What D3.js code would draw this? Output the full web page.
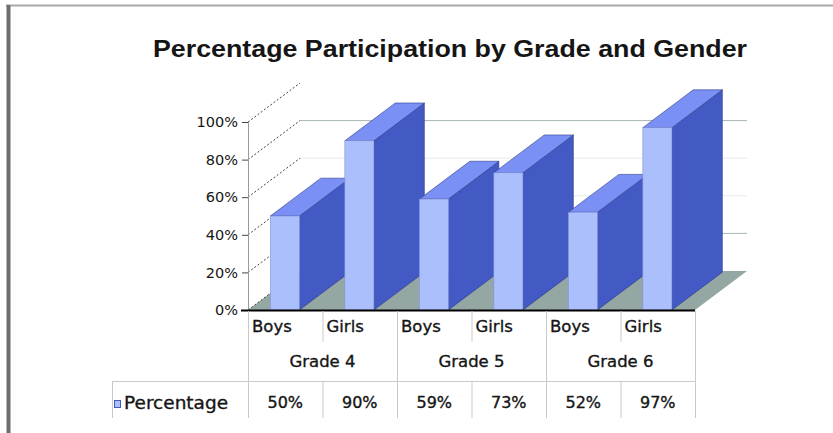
<!DOCTYPE html>
<html lang="en">
<head>
  <meta charset="UTF-8">
  <title>Percentage Participation by Grade and Gender</title>
  <script src="https://d3js.org/d3.v7.min.js"></script>
  <style>
    body { margin: 0; background: #fff; }
    svg { display: block; }
    text { font-family: "DejaVu Sans", Verdana, sans-serif; fill: #151515; }
    .lbl { stroke: #151515; stroke-width: 0.35; }
    .title { font-family: "Liberation Sans", Arial, sans-serif; font-weight: bold; }
  </style>
</head>
<body>
  <svg id="chart"></svg>
  <script>
    // data
    const grades = ["Grade 4", "Grade 5", "Grade 6"];
    const genders = ["Boys", "Girls"];
    const values = [50, 90, 59, 73, 52, 97];
    const yTicks = [0, 20, 40, 60, 80, 100];
    const seriesName = "Percentage";
    const title = "Percentage Participation by Grade and Gender";

    const W = 833, H = 433;
    const svg = d3.select("#chart").attr("width", W).attr("height", H);

    // one entry per bar
    const cats = [];
    grades.forEach((g, gi) => genders.forEach((s, si) => {
      cats.push({ id: gi * 2 + si, grade: g, gender: s, value: values[gi * 2 + si] });
    }));

    const x = d3.scaleBand().domain(cats.map(d => d.id)).range([248, 695]);
    const y = d3.scaleLinear().domain([0, 100]).range([310, 122]);
    const bw = x.bandwidth();
    const dx = 52, dy = -39;   // depth offset of the 3d box

    // frame
    svg.append("line").attr("x1", 6).attr("y1", 5.5).attr("x2", W).attr("y2", 5.5)
      .attr("stroke", "#a9a9a9").attr("stroke-width", 2);
    svg.append("line").attr("x1", 8.5).attr("y1", 5).attr("x2", 8.5).attr("y2", H)
      .attr("stroke", "#6e6e6e").attr("stroke-width", 4);

    // title
    svg.append("text").attr("class", "title")
      .attr("x", 450).attr("y", 57).attr("text-anchor", "middle")
      .attr("font-size", 23).attr("textLength", 594).attr("lengthAdjust", "spacingAndGlyphs")
      .text(title);

    // floor
    const floorPts = [[x.range()[0], y(0)], [x.range()[1], y(0)],
                      [x.range()[1] + dx, y(0) + dy], [x.range()[0] + dx, y(0) + dy]];
    svg.append("polygon").attr("points", floorPts.map(p => p.join(",")).join(" "))
      .attr("fill", "#95a7a2");

    // back wall gridlines
    svg.append("g").selectAll("line").data(yTicks.filter(t => t > 0 && t < 100)).join("line")
      .attr("x1", x.range()[0] + dx).attr("x2", x.range()[1] + dx)
      .attr("y1", d => y(d) + dy).attr("y2", d => y(d) + dy)
      .attr("stroke", d => (d === 20 || d === 80) ? "#a8b6b4" : "#e6eaea").attr("stroke-width", 1);

    // diagonal tick lines on the left side wall
    svg.append("g").selectAll("line").data(yTicks).join("line")
      .attr("x1", x.range()[0]).attr("y1", d => y(d))
      .attr("x2", x.range()[0] + dx).attr("y2", d => y(d) + dy)
      .attr("stroke", "#333").attr("stroke-width", 0.9).attr("stroke-dasharray", "2,2");

    // y axis
    svg.append("line").attr("x1", 248.5).attr("x2", 248.5).attr("y1", y(100)).attr("y2", y(0))
      .attr("stroke", "#9a9a9a");
    const yAxis = svg.append("g").attr("transform", "translate(248,0)")
      .call(d3.axisLeft(y).tickValues(yTicks).tickSize(6).tickFormat(d => d + "%"));
    yAxis.select(".domain").remove();
    yAxis.selectAll(".tick line").attr("stroke", "#444");
    yAxis.selectAll(".tick text").attr("font-size", 14.5).attr("x", -10)
      .attr("font-family", "DejaVu Sans").attr("fill", "#151515");

    // bars
    const bars = svg.append("g").selectAll("g").data(cats).join("g");
    const fx = d => x(d.id) + bw * 0.3;
    const fw = bw * 0.39;
    const bd = 0.97;
    const pts = a => a.map(p => p.join(",")).join(" ");
    bars.append("polygon")   // right side
      .attr("points", d => pts([[fx(d) + fw, y(d.value)], [fx(d) + fw + dx * bd, y(d.value) + dy * bd],
                                [fx(d) + fw + dx * bd, y(0) + dy * bd], [fx(d) + fw, y(0)]]))
      .attr("fill", "#4359c3").attr("stroke", "#2c3b8c").attr("stroke-width", 0.6);
    bars.append("polygon")   // top
      .attr("points", d => pts([[fx(d), y(d.value)], [fx(d) + fw, y(d.value)],
                                [fx(d) + fw + dx * bd, y(d.value) + dy * bd], [fx(d) + dx * bd, y(d.value) + dy * bd]]))
      .attr("fill", "#7b90f4").attr("stroke", "#2c3b8c").attr("stroke-width", 0.6);
    bars.append("rect")      // front
      .attr("x", fx).attr("y", d => y(d.value))
      .attr("width", fw).attr("height", d => y(0) - y(d.value))
      .attr("fill", "#abbffc").attr("stroke", "#7f90d6").attr("stroke-width", 0.6);

    // front axis line
    svg.append("line").attr("x1", 241).attr("x2", x.range()[1]).attr("y1", y(0) + 0.5).attr("y2", y(0) + 0.5)
      .attr("stroke", "#000").attr("stroke-width", 2);

    // data table
    const tbl = svg.append("g").attr("stroke", "#c9c9c9").attr("stroke-width", 1);
    cats.forEach(d => {
      const isGradeEdge = d.id % 2 === 0;
      tbl.append("line").attr("x1", x(d.id) + 0.5).attr("x2", x(d.id) + 0.5)
        .attr("y1", y(0) + 1).attr("y2", isGradeEdge ? 418 : 342);
      tbl.append("line").attr("x1", x(d.id) + 0.5).attr("x2", x(d.id) + 0.5)
        .attr("y1", 382).attr("y2", 418);
    });
    tbl.append("line").attr("x1", x.range()[1] + 0.5).attr("x2", x.range()[1] + 0.5)
      .attr("y1", y(0) + 1).attr("y2", 418);
    tbl.append("line").attr("x1", 112).attr("x2", x.range()[1]).attr("y1", 381.5).attr("y2", 381.5);
    tbl.append("line").attr("x1", 112.5).attr("x2", 112.5).attr("y1", 382).attr("y2", 418);

    svg.append("g").selectAll("text").data(cats).join("text").attr("class", "lbl")
      .attr("x", d => x(d.id) + 4).attr("y", 332).attr("font-size", 16.5)
      .text(d => d.gender);
    svg.append("g").selectAll("text").data(grades).join("text").attr("class", "lbl")
      .attr("x", (g, i) => (x(i * 2) + x(i * 2 + 1) + bw) / 2).attr("y", 367)
      .attr("text-anchor", "middle").attr("font-size", 16.5)
      .text(g => g);
    svg.append("g").selectAll("text").data(cats).join("text").attr("class", "lbl")
      .attr("x", d => x(d.id) + bw / 2).attr("y", 408)
      .attr("text-anchor", "middle").attr("font-size", 16)
      .text(d => d.value + "%");

    // legend key
    svg.append("rect").attr("x", 114.5).attr("y", 400.5).attr("width", 6).attr("height", 7)
      .attr("fill", "#abbffc").attr("stroke", "#4359c3");
    svg.append("text").attr("class", "lbl").attr("x", 124).attr("y", 409).attr("font-size", 18.5).text(seriesName);
  </script>
</body>
</html>
